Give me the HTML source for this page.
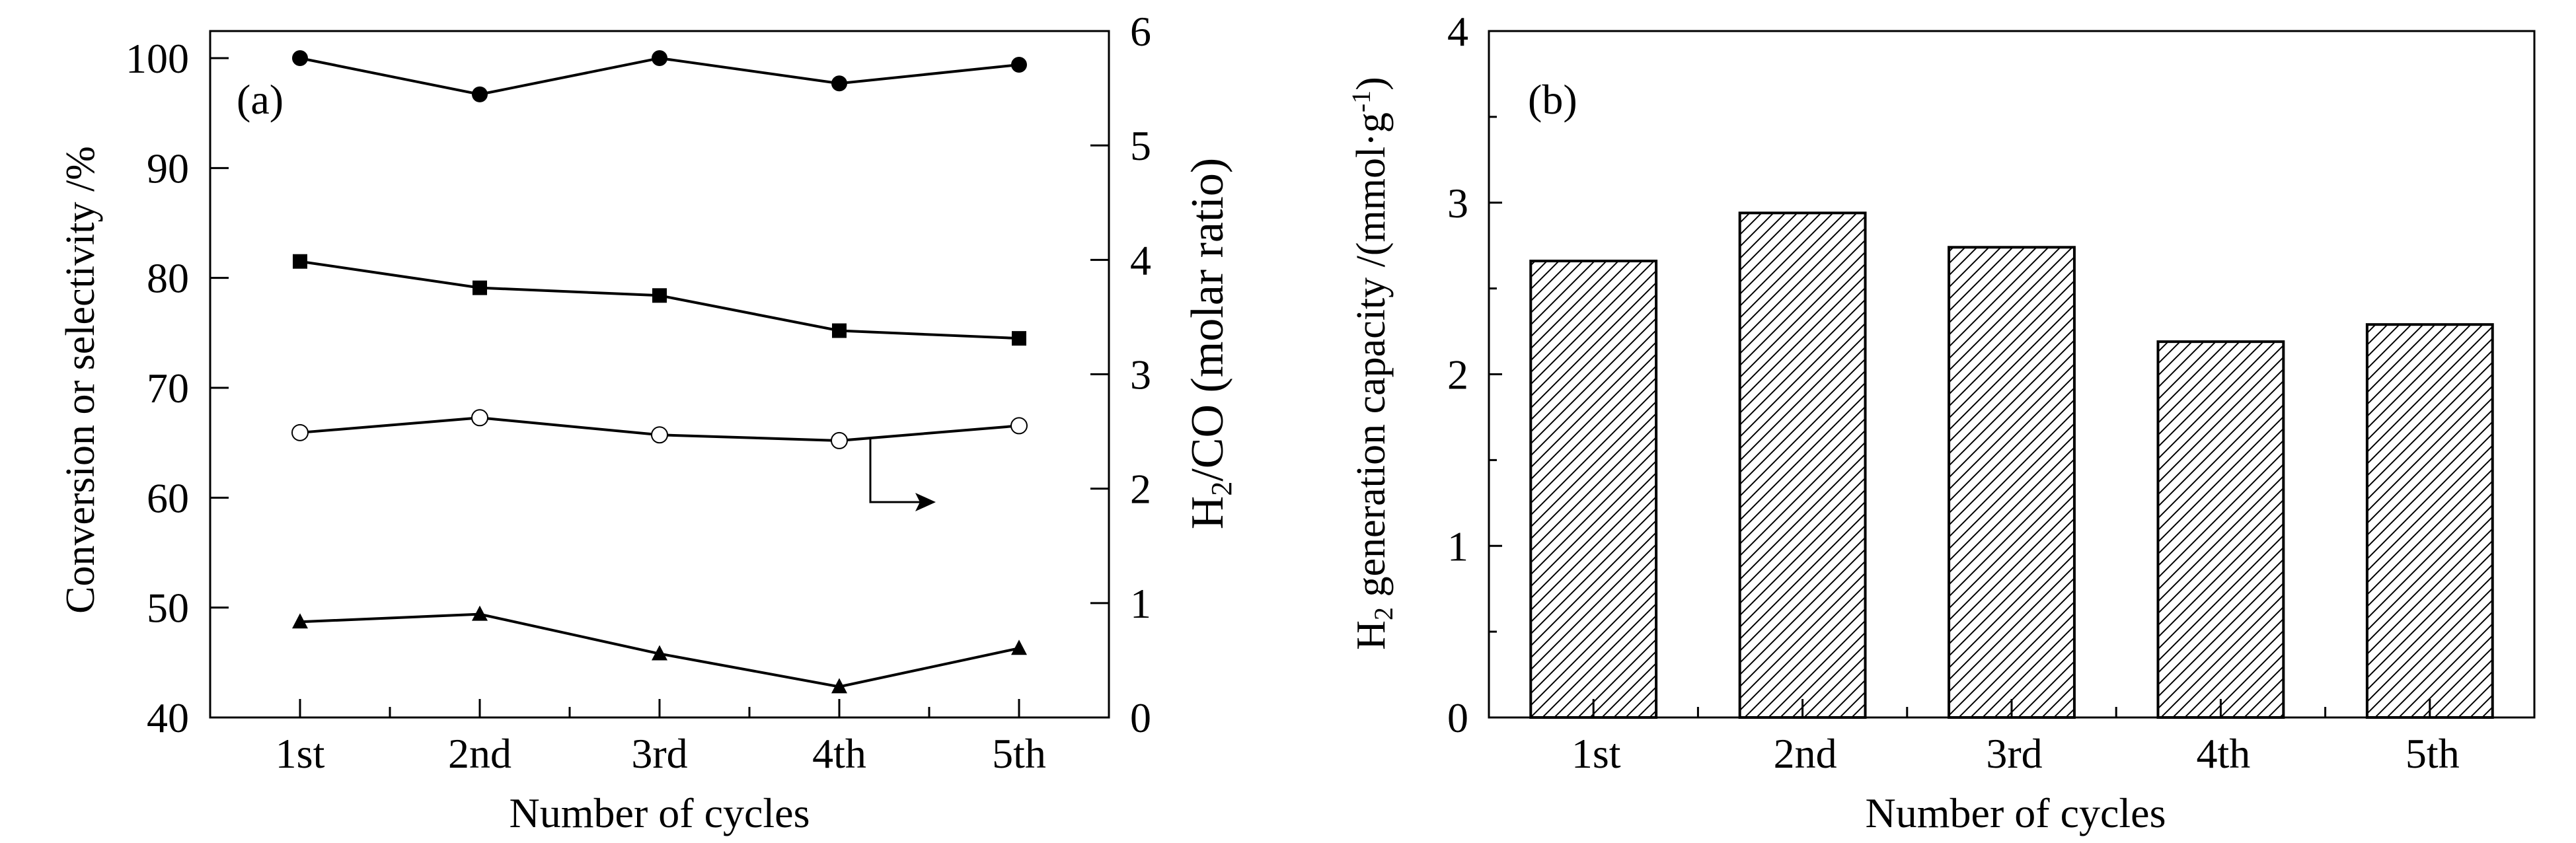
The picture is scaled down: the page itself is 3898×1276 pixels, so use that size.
<!DOCTYPE html>
<html><head><meta charset="utf-8"><style>
html,body{margin:0;padding:0;background:#fff;}
svg{display:block;font-family:"Liberation Serif",serif;}
</style></head><body>
<svg id="fig" width="3898" height="1276" viewBox="0 0 3898 1276" xmlns="http://www.w3.org/2000/svg">
<defs>
<pattern id="hatch" patternUnits="userSpaceOnUse" width="18" height="18">
<path d="M-2,20 L20,-2 M-2,2 L2,-2 M16,20 L20,16" stroke="#000" stroke-width="2"/>
</pattern>
</defs>
<g id="pa"></g>
<g id="pb"></g>
</svg>
<script>
const cycles = ["1st","2nd","3rd","4th","5th"];
const conv1 = [100, 96.7, 100, 97.7, 99.4];      // filled circles (left axis)
const conv2 = [81.5, 79.1, 78.4, 75.2, 74.5];    // filled squares (left axis)
const h2co = [2.49, 2.62, 2.47, 2.42, 2.55];     // open circles (right axis)
const conv3 = [48.7, 49.4, 45.8, 42.8, 46.3];    // filled triangles (left axis)
const leftTicks = [40,50,60,70,80,90,100];
const rightTicks = [0,1,2,3,4,5,6];
const h2cap = [2.66, 2.94, 2.74, 2.19, 2.29];
const bTicks = [0,1,2,3,4];

const NS="http://www.w3.org/2000/svg";
function mk(parent,tag,attrs,text){const e=document.createElementNS(NS,tag);for(const k in attrs)e.setAttribute(k,attrs[k]);if(text!==undefined)e.textContent=text;parent.appendChild(e);return e;}

// ---- Panel A ----
const pa=document.getElementById('pa');
const aL=318,aR=1678,aT=47,aB=1086;
const xA=i=>aL+(aR-aL)/5*(i+0.5);
const yL=v=>aB-(v-40)*(aB-88)/60;
const yR=v=>aB-v*(aB-aT)/6;
let r=mk(pa,'rect',{x:aL,y:aT,width:aR-aL,height:aB-aT,fill:'none',stroke:'#000','stroke-width':3});


leftTicks.forEach(v=>{
  let t=mk(pa,'line',{x1:aL,x2:aL+28,y1:yL(v),y2:yL(v),stroke:'#000','stroke-width':3});
  
  
  let l=mk(pa,'text',{x:286,y:yL(v)+22,'text-anchor':'end','font-size':64},String(v));
  
  
});
rightTicks.forEach(v=>{
  let t=mk(pa,'line',{x1:aR-28,x2:aR,y1:yR(v),y2:yR(v),stroke:'#000','stroke-width':3});
  
  
  let l=mk(pa,'text',{x:1710,y:yR(v)+22,'font-size':64},String(v));
  
  
});
cycles.forEach((c,i)=>{
  let t=mk(pa,'line',{x1:xA(i),x2:xA(i),y1:aB,y2:aB-28,stroke:'#000','stroke-width':3});
  
  
  if(i<4){let m=mk(pa,'line',{x1:xA(i+0.5),x2:xA(i+0.5),y1:aB,y2:aB-16,stroke:'#000','stroke-width':3});
  
  }
  let l=mk(pa,'text',{x:xA(i),y:1162,'text-anchor':'middle','font-size':64},c);
  
  
});
function series(g,vals,yf,name,marker){
  const pts=vals.map((v,i)=>xA(i)+','+yf(v)).join(' ');
  let p=mk(g,'polyline',{points:pts,fill:'none',stroke:'#000','stroke-width':4});
  
  
  vals.forEach((v,i)=>{
    const x=xA(i),y=yf(v);let m;
    if(marker==='circle') m=mk(g,'circle',{cx:x,cy:y,r:12,fill:'#000'});
    else if(marker==='open') m=mk(g,'circle',{cx:x,cy:y,r:12,fill:'#fff',stroke:'#000','stroke-width':2});
    else if(marker==='square') m=mk(g,'rect',{x:x-11,y:y-11,width:22,height:22,fill:'#000'});
    else m=mk(g,'polygon',{points:`${x},${y-13} ${x-12},${y+10} ${x+12},${y+10}`,fill:'#000'});
    
    
  });
}
series(pa,conv1,yL,'series-circle','circle');
series(pa,conv2,yL,'series-square','square');
series(pa,h2co,yR,'series-h2co','open');
series(pa,conv3,yL,'series-triangle','tri');
// arrow
const ax=xA(3)+47, ay=yR(h2co[3]+(h2co[4]-h2co[3])*47/((aR-aL)/5));
let arr=mk(pa,'path',{d:`M${ax},${ay} L${ax},760 L1400,760`,fill:'none',stroke:'#000','stroke-width':3});


let ah=mk(pa,'polygon',{points:'1416,760 1385,746 1392,760 1385,774',fill:'#000'});


let la=mk(pa,'text',{x:358,y:172,'font-size':64},'(a)');


let xl=mk(pa,'text',{x:998,y:1252,'text-anchor':'middle','font-size':64},'Number of cycles');


let yl=mk(pa,'text',{x:0,y:0,'text-anchor':'middle','font-size':62,transform:'translate(142,575) rotate(-90)'},'Conversion or selectivity  /%');


let yr=mk(pa,'text',{x:0,y:0,'text-anchor':'middle','font-size':70,transform:'translate(1850,520) rotate(-90)'});


yr.innerHTML='H<tspan font-size="44" dy="13">2</tspan><tspan dy="-13">/CO (molar ratio)</tspan>';

// ---- Panel B ----
const pb=document.getElementById('pb');
const bL=2253,bR=3835,bT=47,bB=1086;
const xB=i=>bL+(bR-bL)/5*(i+0.5);
const yB=v=>bB-v*(bB-bT)/4;
const bw=(bR-bL)/5*0.6;
h2cap.forEach((v,i)=>{
  let b=mk(pb,'rect',{x:xB(i)-bw/2,y:yB(v),width:bw,height:bB-yB(v),fill:'url(#hatch)',stroke:'#000','stroke-width':4});
  
  
});
let rb=mk(pb,'rect',{x:bL,y:bT,width:bR-bL,height:bB-bT,fill:'none',stroke:'#000','stroke-width':3});


bTicks.forEach(v=>{
  let t=mk(pb,'line',{x1:bL,x2:bL+20,y1:yB(v),y2:yB(v),stroke:'#000','stroke-width':3});
  
  
  if(v<4){let m=mk(pb,'line',{x1:bL,x2:bL+12,y1:yB(v+0.5),y2:yB(v+0.5),stroke:'#000','stroke-width':3});
  
  }
  let l=mk(pb,'text',{x:2222,y:yB(v)+22,'text-anchor':'end','font-size':64},String(v));
  
  
});
cycles.forEach((c,i)=>{
  let t=mk(pb,'line',{x1:xB(i),x2:xB(i),y1:bB,y2:bB-28,stroke:'#000','stroke-width':3});
  
  
  if(i<4){let m=mk(pb,'line',{x1:xB(i+0.5),x2:xB(i+0.5),y1:bB,y2:bB-16,stroke:'#000','stroke-width':3});
  
  }
  let l=mk(pb,'text',{x:xB(i)+4,y:1162,'text-anchor':'middle','font-size':64},c);
  
  
});
let lb=mk(pb,'text',{x:2312,y:172,'font-size':64},'(b)');


let xlb=mk(pb,'text',{x:3050,y:1252,'text-anchor':'middle','font-size':64},'Number of cycles');


let ylb=mk(pb,'text',{x:0,y:0,'text-anchor':'middle','font-size':62,transform:'translate(2095,550) rotate(-90)'});


ylb.innerHTML='H<tspan font-size="40" dy="12">2</tspan><tspan dy="-12"> generation capacity /(mmol·g</tspan><tspan font-size="40" dy="-22">-1</tspan><tspan dy="22">)</tspan>';
</script>
</body></html>
